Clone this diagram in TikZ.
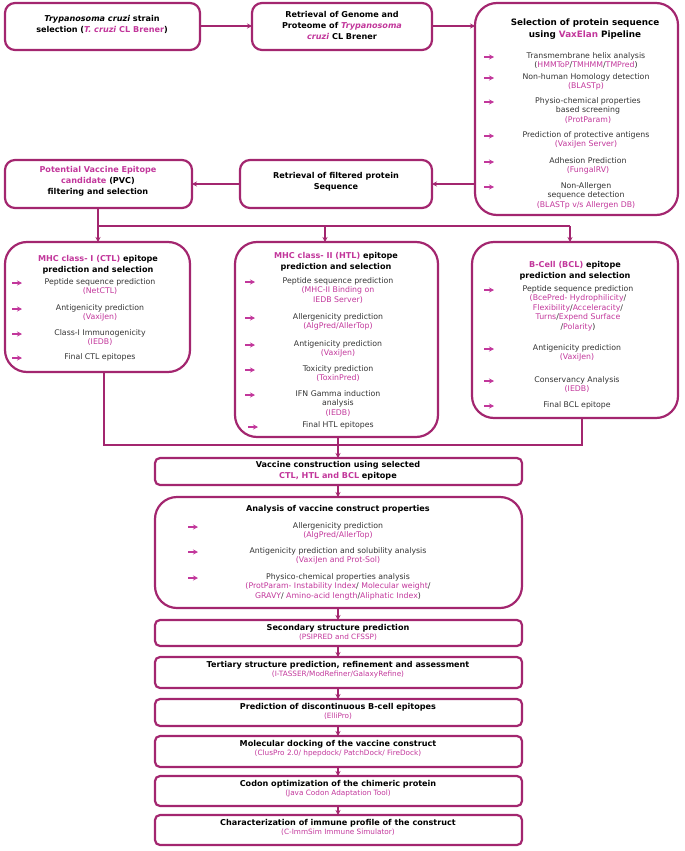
\documentclass[tikz,border=0pt]{standalone}
\usepackage{fontspec}
\setmainfont{DejaVu Sans}
\usetikzlibrary{arrows.meta}
\definecolor{bd}{HTML}{A3266F}
\definecolor{tl}{HTML}{C2379B}
\definecolor{tx}{HTML}{333333}
\newcommand\T[1]{\textcolor{tl}{#1}}
\begin{document}
\begin{tikzpicture}[x=1pt,y=-1pt,
  box/.style={draw=bd,line width=2.2pt,rounded corners=10pt},
  bigbox/.style={draw=bd,line width=2.2pt,rounded corners=22pt},
  lbl/.style={inner sep=0,align=center,anchor=north,font=\fontsize{7.8}{9.6}\selectfont,text=tx},
  hd/.style={lbl,font=\fontsize{8.1}{11}\selectfont\bfseries,text=black},
  con/.style={draw=bd,line width=1.3pt,-{Stealth[length=5pt,width=5pt]}},
  bul/.style={draw=tl,line width=1.3pt,-{Stealth[length=5pt,width=5pt]}}]
\useasboundingbox (0,0) rectangle (685,851);
\newcommand\bu[3]{\coordinate (#1a) at (#2,#3); \coordinate (#1b) at (#2+10,#3); \draw[bul] (#1a) -- (#1b);}
% boxes
\draw[box] (5,3) rectangle (200,50);
\node[hd] (t1) at (102,15) {\textit{Trypanosoma cruzi} strain\\selection (\T{\textit{T. cruzi} CL Brener})};
\draw[box] (252,3) rectangle (432,50);
\node[hd] (t2) at (342,11) {Retrieval of Genome and\\Proteome of \T{\textit{Trypanosoma}}\\\T{\textit{cruzi}} CL Brener};
\draw[bigbox] (475,3) rectangle (678,215);
\node[hd,font=\fontsize{8.8}{12}\selectfont\bfseries] (t3) at (585,19) {Selection of protein sequence\\using \T{VaxElan} Pipeline};
\node[lbl] at (586,52) {Transmembrane helix analysis\\(\T{HMMToP}/\T{TMHMM}/\T{TMPred})};
\node[lbl] at (586,73) {Non-human Homology detection\\\T{(BLASTp)}};
\node[lbl] at (588,97) {Physio-chemical properties\\based screening\\\T{(ProtParam)}};
\node[lbl] at (586,131) {Prediction of protective antigens\\\T{(VaxiJen Server)}};
\node[lbl] at (588,157) {Adhesion Prediction\\\T{(FungalRV)}};
\node[lbl] at (586,182) {Non-Allergen\\sequence detection\\\T{(BLASTp v/s Allergen DB)}};
\bu{p1}{484}{57}\bu{p2}{484}{78}\bu{p3}{484}{102}\bu{p4}{484}{136}\bu{p5}{484}{162}\bu{p6}{484}{187}
\draw[box] (5,160) rectangle (192,208);
\node[hd] (t4) at (98,166) {\T{Potential Vaccine Epitope}\\\T{candidate} (PVC)\\filtering and selection};
\draw[box] (240,160) rectangle (432,208);
\node[hd] (t5) at (336,172) {Retrieval of filtered protein\\Sequence};
% connectors top
\coordinate (e1) at (200,26); \coordinate (e2) at (252,26);
\draw[con] (e1) -- (e2);
\coordinate (e3) at (432,26); \coordinate (e4) at (475,26);
\draw[con] (e3) -- (e4);
\coordinate (e5) at (475,184); \coordinate (e6) at (432,184);
\draw[con] (e5) -- (e6);
\coordinate (e7) at (240,184); \coordinate (e8) at (192,184);
\draw[con] (e7) -- (e8);
\coordinate (s0) at (98,208); \coordinate (s1) at (98,226); \coordinate (s2) at (570,226);
\coordinate (c1) at (98,242); \coordinate (c2) at (325,242); \coordinate (c3) at (570,242);
\coordinate (k2) at (325,226);
\draw[draw=bd,line width=1.3pt] (s0) -- (s1) -- (s2);
\draw[con] (s1) -- (c1); \draw[con] (k2) -- (c2); \draw[con] (s2) -- (c3);
% CTL
\draw[bigbox] (5,242) rectangle (190,372);
\node[hd] at (98,255) {\T{MHC class- I (CTL)} epitope\\prediction and selection};
\node[lbl] at (100,278) {Peptide sequence prediction\\\T{(NetCTL)}};
\node[lbl] at (100,304) {Antigenicity prediction\\\T{(VaxiJen)}};
\node[lbl] at (100,329) {Class-I Immunogenicity\\\T{(IEDB)}};
\node[lbl] at (100,353) {Final CTL epitopes};
\bu{c1}{12}{283}\bu{c2}{12}{309}\bu{c3}{12}{334}\bu{c4}{12}{358}
% HTL
\draw[bigbox] (235,242) rectangle (438,437);
\node[hd] at (336,252) {\T{MHC class- II (HTL)} epitope\\prediction and selection};
\node[lbl] at (338,277) {Peptide sequence prediction\\\T{(MHC-II Binding on}\\\T{IEDB Server)}};
\node[lbl] at (338,313) {Allergenicity prediction\\\T{(AlgPred/AllerTop)}};
\node[lbl] at (338,340) {Antigenicity prediction\\\T{(VaxiJen)}};
\node[lbl] at (338,365) {Toxicity prediction\\\T{(ToxinPred)}};
\node[lbl] at (338,390) {IFN Gamma induction\\analysis\\\T{(IEDB)}};
\node[lbl] at (338,421) {Final HTL epitopes};
\bu{h1}{245}{282}\bu{h2}{245}{318}\bu{h3}{245}{345}\bu{h4}{245}{370}\bu{h5}{245}{395}\bu{h6}{248}{427}
% BCL
\draw[bigbox] (472,242) rectangle (678,418);
\node[hd] at (575,261) {\T{B-Cell (BCL)} epitope\\prediction and selection};
\node[lbl] at (578,285) {Peptide sequence prediction\\\T{(BcePred- Hydrophilicity}/\\\T{Flexibility}/\T{Acceleracity}/\\\T{Turns}/\T{Expend Surface}\\/\T{Polarity})};
\node[lbl] at (577,344) {Antigenicity prediction\\\T{(VaxiJen)}};
\node[lbl] at (577,376) {Conservancy Analysis\\\T{(IEDB)}};
\node[lbl] at (577,401) {Final BCL epitope};
\bu{g1}{484}{290}\bu{g2}{484}{349}\bu{g3}{484}{381}\bu{g4}{484}{406}
% merge
\coordinate (m1) at (104,372); \coordinate (m2) at (104,445); \coordinate (m3) at (582,445);
\coordinate (m4) at (582,418); \coordinate (m5) at (338,437); \coordinate (m6) at (338,458);
\draw[draw=bd,line width=1.3pt] (m1) -- (m2) -- (m3) -- (m4);
\draw[con] (m5) -- (m6);
% lower
\draw[box,rounded corners=5pt] (155,458) rectangle (522,485);
\node[hd] at (338,461) {Vaccine construction using selected\\\T{CTL, HTL and BCL} epitope};
\draw[bigbox] (155,497) rectangle (522,608);
\node[hd] at (338,505) {Analysis of vaccine construct properties};
\node[lbl] at (338,522) {Allergenicity prediction\\\T{(AlgPred/AllerTop)}};
\node[lbl] at (338,547) {Antigenicity prediction and solubility analysis\\\T{(VaxiJen and Prot-Sol)}};
\node[lbl] at (338,573) {Physico-chemical properties analysis\\\T{(ProtParam- Instability Index}/ \T{Molecular weight}/\\\T{GRAVY}/ \T{Amino-acid length}/\T{Aliphatic Index})};
\bu{a1}{188}{527}\bu{a2}{188}{552}\bu{a3}{188}{578}
\newcommand\stp[5]{\draw[box,rounded corners=5pt] (155,#2) rectangle (522,#3);
  \node[hd] (#1) at (338,#2+4) {#4\\[-1.5pt]\fontsize{7.3}{8.5}\selectfont\mdseries\T{#5}};}
\stp{q1}{620}{646}{Secondary structure prediction}{(PSIPRED and CFSSP)}
\stp{q2}{657}{688}{Tertiary structure prediction, refinement and assessment}{(I-TASSER/ModRefiner/GalaxyRefine)}
\stp{q3}{699}{726}{Prediction of discontinuous B-cell epitopes}{(ElliPro)}
\stp{q4}{736}{767}{Molecular docking of the vaccine construct}{(ClusPro 2.0/ hpepdock/ PatchDock/ FireDock)}
\stp{q5}{776}{806}{Codon optimization of the chimeric protein}{(Java Codon Adaptation Tool)}
\stp{q6}{815}{845}{Characterization of immune profile of the construct}{(C-ImmSim Immune Simulator)}
\coordinate (v1) at (338,485); \coordinate (v2) at (338,497); \draw[con] (v1) -- (v2);
\coordinate (v3) at (338,608); \coordinate (v4) at (338,620); \draw[con] (v3) -- (v4);
\coordinate (v5) at (338,646); \coordinate (v6) at (338,657); \draw[con] (v5) -- (v6);
\coordinate (v7) at (338,688); \coordinate (v8) at (338,699); \draw[con] (v7) -- (v8);
\coordinate (v9) at (338,726); \coordinate (v10) at (338,736); \draw[con] (v9) -- (v10);
\coordinate (v11) at (338,767); \coordinate (v12) at (338,776); \draw[con] (v11) -- (v12);
\coordinate (v13) at (338,806); \coordinate (v14) at (338,815); \draw[con] (v13) -- (v14);
\end{tikzpicture}
\end{document}
